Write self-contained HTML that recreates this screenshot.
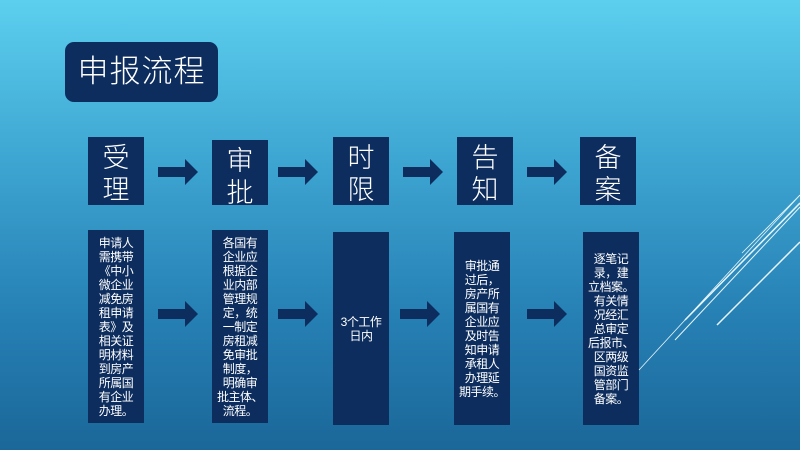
<!DOCTYPE html>
<html><head><meta charset="utf-8"><style>
body{margin:0;width:800px;height:450px;overflow:hidden;font-family:"Liberation Sans","Noto Sans CJK SC",sans-serif;}
.bg{position:absolute;left:0;top:0;width:800px;height:450px;background:linear-gradient(180deg,#5ccfee 0%,#3ea6d2 35%,#2680b4 70%,#1b6799 100%);}
.b{position:absolute;background:#0c2d5e;color:#fff;box-sizing:border-box;}
.t{font-size:27px;line-height:32px;text-align:center;padding-top:5px;font-weight:300;}
.d{font-size:12px;line-height:14px;display:flex;align-items:center;justify-content:center;text-align:center;padding:0;white-space:nowrap;letter-spacing:-0.5px;}
.title{left:65px;top:42px;width:153px;height:60px;border-radius:9px;font-size:31px;line-height:60px;text-align:center;letter-spacing:1px;font-weight:300;}
</style></head><body>
<div class="bg"></div>
<div class="b title">申报流程</div>
<div class="b t" style="left:88px;top:137px;width:56px;height:68px">受<br>理</div>
<div class="b t" style="left:212px;top:140px;width:56px;height:65px">审<br>批</div>
<div class="b t" style="left:333px;top:137px;width:56px;height:68px">时<br>限</div>
<div class="b t" style="left:457px;top:137px;width:56px;height:68px">告<br>知</div>
<div class="b t" style="left:580px;top:137px;width:56px;height:68px">备<br>案</div>
<div class="b d" style="left:88px;top:230px;width:56px;height:193px"><div>申请人<br>需携带<br>《中小<br>微企业<br>减免房<br>租申请<br>表》及<br>相关证<br>明材料<br>到房产<br>所属国<br>有企业<br>办理。</div></div>
<div class="b d" style="left:212px;top:230px;width:56px;height:193px"><div>各国有<br>企业应<br>根据企<br>业内部<br>管理规<br>定，统<br>一制定<br>房租减<br>免审批<br>制度，<br>明确审<br>批主体、<br>流程。</div></div>
<div class="b d" style="left:333px;top:232px;width:56px;height:193px"><div>3个工作<br>日内</div></div>
<div class="b d" style="left:454px;top:232px;width:56px;height:193px"><div>审批通<br>过后，<br>房产所<br>属国有<br>企业应<br>及时告<br>知申请<br>承租人<br>办理延<br>期手续。</div></div>
<div class="b d" style="left:583px;top:232px;width:56px;height:193px"><div>逐笔记<br>录，建<br>立档案。<br>有关情<br>况经汇<br>总审定<br>后报市、<br>区两级<br>国资监<br>管部门<br>备案。</div></div>
<svg width="800" height="450" style="position:absolute;left:0;top:0">
<g fill="#0c2d5e">
<polygon points="158,167 185,167 185,159 198,172 185,185 185,177 158,177"/>
<polygon points="278,167 305,167 305,159 318,172 305,185 305,177 278,177"/>
<polygon points="403,167 430,167 430,159 443,172 430,185 430,177 403,177"/>
<polygon points="527,167 554,167 554,159 567,172 554,185 554,177 527,177"/>
<polygon points="158,309 185,309 185,301 198,314 185,327 185,319 158,319"/>
<polygon points="278,309 305,309 305,301 318,314 305,327 305,319 278,319"/>
<polygon points="400,309 427,309 427,301 440,314 427,327 427,319 400,319"/>
<polygon points="527,309 554,309 554,301 567,314 554,327 554,319 527,319"/>
</g>
<g stroke="#e8f6fc" fill="none">
<line x1="639" y1="370" x2="800" y2="195" stroke-width="0.8"/>
<line x1="675" y1="340" x2="800" y2="207" stroke-width="1"/>
<line x1="685" y1="320" x2="800" y2="203" stroke-width="1.5"/>
<line x1="717" y1="325" x2="800" y2="242" stroke-width="1.5"/>
<line x1="742" y1="253" x2="800" y2="195" stroke-width="0.8"/>
</g>
</svg>
</body></html>
